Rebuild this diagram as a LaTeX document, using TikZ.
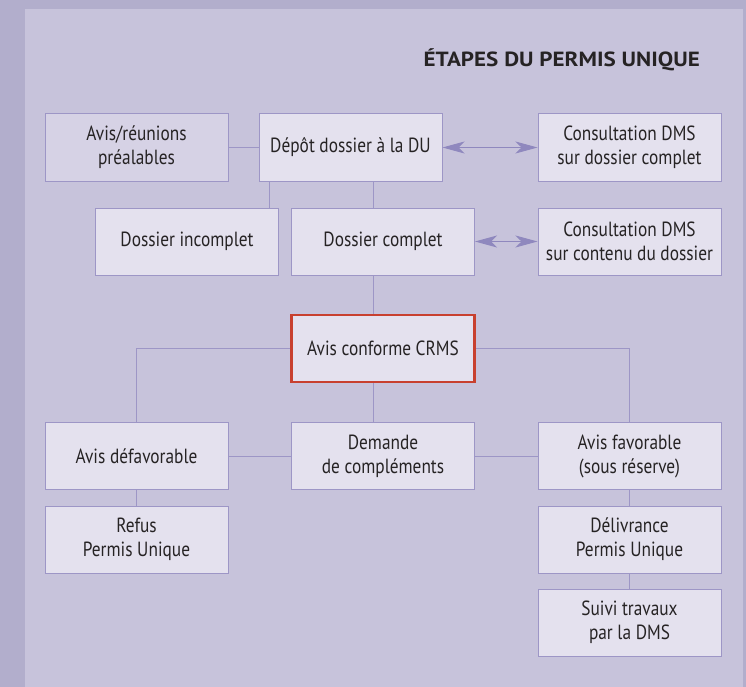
\documentclass[tikz,border=0pt]{standalone}
\usepackage{fontspec}
\setmainfont[FakeStretch=0.845]{PT Sans}
\newfontfamily\titlefont[FakeStretch=1.125]{PT Sans}
\usetikzlibrary{arrows.meta}
\definecolor{outerbg}{HTML}{B2AECC}
\definecolor{panelbg}{HTML}{C7C3DB}
\definecolor{boxfill}{HTML}{E4E1EE}
\definecolor{boxfilldark}{HTML}{D6D2E5}
\definecolor{boxline}{HTML}{9D96C6}
\definecolor{arrowcol}{HTML}{8F88BE}
\definecolor{redline}{HTML}{C8402F}
\definecolor{txt}{HTML}{262324}
\begin{document}
\begin{tikzpicture}[x=1pt,y=-1pt,
  stepbox/.style={draw=boxline, line width=1pt, fill=boxfill, minimum width=183pt, minimum height=67pt,
    inner sep=0pt, align=center, text=txt, font=\fontsize{20.5}{24}\selectfont},
  conn/.style={draw=boxline, line width=1pt},
  dbl/.style={draw=arrowcol, line width=1pt, {Stealth[length=22pt,width=12pt,inset=6pt]}-{Stealth[length=22pt,width=12pt,inset=6pt]}}
]
\fill[outerbg] (0,0) rectangle (746,687);
\fill[panelbg] (25,9) rectangle (743,687);
\useasboundingbox (0,0) rectangle (746,687);

\node[anchor=base east, inner sep=0pt, text=txt, font=\titlefont\bfseries\fontsize{20.5}{24}\selectfont] (title) at (700,67) {ÉTAPES DU PERMIS UNIQUE};

\node[stepbox, fill=boxfilldark] (avis) at (136.5,147.5) {Avis/réunions\\préalables};
\node[stepbox] (depot) at (350.5,147.5) {Dépôt dossier à la DU};
\node[stepbox] (cons1) at (629.5,147.5) {Consultation DMS\\sur dossier complet};
\node[stepbox] (incomplet) at (187,241.5) {Dossier incomplet};
\node[stepbox] (complet) at (383,241.5) {Dossier complet};
\node[stepbox] (cons2) at (629.5,241.5) {Consultation DMS\\sur contenu du dossier};
\node[stepbox, draw=redline, line width=2.5pt] (crms) at (383,348.5) {Avis conforme CRMS};
\node[stepbox] (defav) at (136.5,456) {Avis défavorable};
\node[stepbox] (demande) at (383,456) {Demande\\de compléments};
\node[stepbox] (fav) at (629.5,456) {Avis favorable\\(sous réserve)};
\node[stepbox] (refus) at (136.5,539.5) {Refus\\Permis Unique};
\node[stepbox] (deliv) at (629.5,539.5) {Délivrance\\Permis Unique};
\node[stepbox] (suivi) at (629.5,622.5) {Suivi travaux\\par la DMS};

\coordinate (c1) at (269,0);
\coordinate (c2) at (373,0);

\draw[conn] (avis.east) -- (depot.west);
\draw[conn] (depot.south -| c1) -- (incomplet.north -| c1);
\draw[conn] (depot.south -| c2) -- (complet.north -| c2);
\draw[conn] (complet.south -| c2) -- (crms.north -| c2);
\draw[conn] (crms.south -| c2) -- (demande.north -| c2);
\draw[conn] (crms.west) -| (defav.north);
\draw[conn] (crms.east) -| (fav.north);
\draw[conn] (defav.east) -- (demande.west);
\draw[conn] (demande.east) -- (fav.west);
\draw[conn] (defav.south) -- (refus.north);
\draw[conn] (fav.south) -- (deliv.north);
\draw[conn] (deliv.south) -- (suivi.north);
\draw[dbl] (depot.east) -- (cons1.west);
\draw[dbl] (complet.east) -- (cons2.west);
\end{tikzpicture}
\end{document}
